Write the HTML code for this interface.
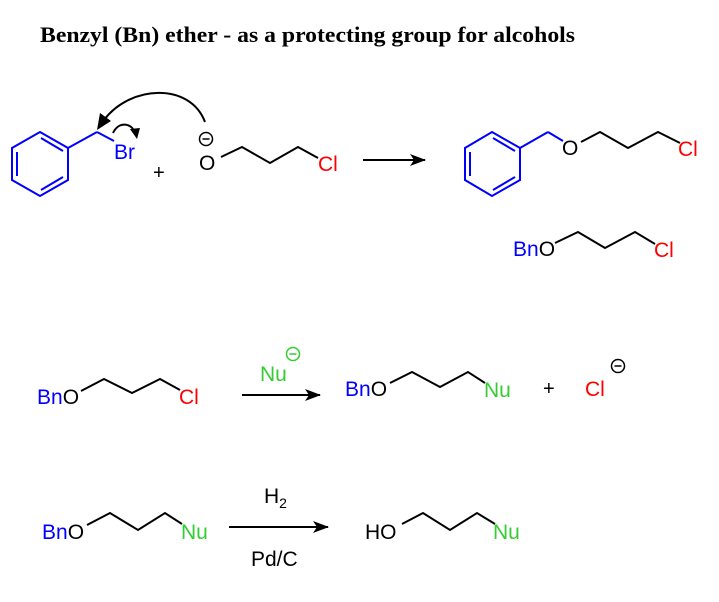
<!DOCTYPE html>
<html><head><meta charset="utf-8"><style>html,body{margin:0;padding:0;background:#fff}</style></head>
<body>
<svg width="719" height="597" viewBox="0 0 719 597" xmlns="http://www.w3.org/2000/svg" font-family="Liberation Sans, Arial, sans-serif" font-size="21">
<defs>
<marker id="ah" markerWidth="16" markerHeight="12" refX="15" refY="6" orient="auto" markerUnits="userSpaceOnUse"><path d="M0,0 L16,6 L0,12 L4,6 Z" fill="#000"/></marker>
</defs>
<text x="40" y="42" font-family="Liberation Serif, serif" font-weight="bold" font-size="22" textLength="535" lengthAdjust="spacingAndGlyphs">Benzyl (Bn) ether - as a protecting group for alcohols</text>

<!-- left benzyl bromide -->
<g stroke="#0000ff" stroke-width="2" fill="none">
<polygon points="40,132 68,148 68,180 40,196 12,180 12,148"/>
<line x1="17" y1="152" x2="17" y2="176"/>
<line x1="41" y1="190" x2="63" y2="177"/>
<line x1="41" y1="138" x2="63" y2="151"/>
<line x1="68" y1="148" x2="97" y2="132"/>
<line x1="97" y1="132" x2="114" y2="141"/>
</g>
<text x="114" y="159" fill="#0000ff">Br</text>
<!-- arrows -->
<path d="M205,122 C190,82 130,85 104,120" stroke="#000" stroke-width="2" fill="none"/>
<path d="M97,130 L100,113 L111,121 Z" fill="#000"/>
<path d="M113,133 C118,122 130,122 135,132" stroke="#000" stroke-width="2" fill="none"/>
<path d="M137,139 L130,129 L140,128 Z" fill="#000"/>
<text x="153" y="179" font-size="20">+</text>
<circle cx="206" cy="139" r="6.5" stroke="#000" stroke-width="1.5" fill="none"/>
<line x1="202.5" y1="139" x2="209.5" y2="139" stroke="#000" stroke-width="1.5"/>
<text x="199" y="170">O</text>
<polyline points="221,157 242,147 270,163 298,147 318,158" stroke="#000" stroke-width="2" fill="none"/>
<text x="318" y="171" fill="#ff0000">Cl</text>
<line x1="363" y1="160" x2="425" y2="160" stroke="#000" stroke-width="2" marker-end="url(#ah)"/>

<!-- product -->
<g stroke="#0000ff" stroke-width="2" fill="none">
<polygon points="492,132 520,148 520,180 492,196 465,180 465,148"/>
<line x1="470" y1="152" x2="470" y2="176"/>
<line x1="493" y1="190" x2="515" y2="177"/>
<line x1="493" y1="138" x2="515" y2="151"/>
<line x1="520" y1="148" x2="548" y2="132"/>
<line x1="548" y1="132" x2="563" y2="141"/>
</g>
<text x="562" y="155">O</text>
<polyline points="581,142 600,132 628,148 658,132 680,143" stroke="#000" stroke-width="2" fill="none"/>
<text x="678" y="156" fill="#ff0000">Cl</text>

<text x="513" y="256"><tspan fill="#0000ff">Bn</tspan>O</text>
<polyline points="555,243 578,232 605,248 635,232 655,244" stroke="#000" stroke-width="2" fill="none"/>
<text x="654" y="257" fill="#ff0000">Cl</text>

<!-- row 2 -->
<text x="37" y="404"><tspan fill="#0000ff">Bn</tspan>O</text>
<polyline points="81,391 104,379 132,393 160,379 180,390" stroke="#000" stroke-width="2" fill="none"/>
<text x="179" y="404" fill="#ff0000">Cl</text>
<text x="260" y="381" fill="#33cc33">Nu</text>
<circle cx="293" cy="354" r="6.5" stroke="#33cc33" stroke-width="1.5" fill="none"/>
<line x1="289.5" y1="354" x2="296.5" y2="354" stroke="#33cc33" stroke-width="1.5"/>
<line x1="242" y1="395" x2="320" y2="395" stroke="#000" stroke-width="2" marker-end="url(#ah)"/>
<text x="345" y="396"><tspan fill="#0000ff">Bn</tspan>O</text>
<polyline points="390,383 412,372 440,387 468,372 485,383" stroke="#000" stroke-width="2" fill="none"/>
<text x="484" y="397" fill="#33cc33">Nu</text>
<text x="543" y="395" font-size="20">+</text>
<text x="585" y="396" fill="#ff0000">Cl</text>
<circle cx="618" cy="366" r="6.5" stroke="#000" stroke-width="1.5" fill="none"/>
<line x1="614.5" y1="366" x2="621.5" y2="366" stroke="#000" stroke-width="1.5"/>

<!-- row 3 -->
<text x="42" y="539"><tspan fill="#0000ff">Bn</tspan>O</text>
<polyline points="87,525 110,513 138,530 165,513 182,524" stroke="#000" stroke-width="2" fill="none"/>
<text x="181" y="539" fill="#33cc33">Nu</text>
<line x1="229" y1="527" x2="328" y2="527" stroke="#000" stroke-width="2" marker-end="url(#ah)"/>
<text x="264" y="503">H<tspan font-size="14" dy="5">2</tspan></text>
<text x="251" y="566">Pd/C</text>
<text x="365" y="539">HO</text>
<polyline points="402,524 423,513 450,530 477,513 495,524" stroke="#000" stroke-width="2" fill="none"/>
<text x="493" y="539" fill="#33cc33">Nu</text>
</svg>
</body></html>
